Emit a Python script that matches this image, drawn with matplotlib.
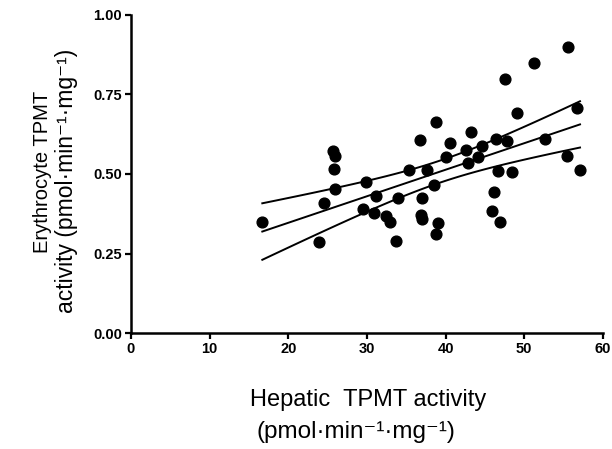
import numpy as np
import matplotlib
matplotlib.use("Agg")
import matplotlib.pyplot as plt

plt.rcParams['font.family'] = ['Liberation Sans', 'DejaVu Sans']

# hepatic TPMT activity (pmol/min/mg)
hepatic = [16.7, 23.9, 24.6, 25.7, 25.9, 25.8, 25.9, 29.5, 29.9, 30.9,
           31.1, 32.4, 32.9, 33.7, 34.0, 35.3, 36.8, 37.0, 36.9, 37.0,
           37.6, 38.5, 38.8, 39.0, 38.8, 40.0, 40.6, 42.6, 43.3, 42.9,
           44.1, 44.7, 46.1, 45.9, 46.9, 46.7, 46.4, 47.8, 47.6, 48.4,
           49.1, 51.2, 52.7, 55.4, 55.6, 56.7, 57.1]
# erythrocyte TPMT activity (pmol/min/mg)
erythro = [0.350, 0.286, 0.409, 0.573, 0.557, 0.516, 0.453, 0.389, 0.474, 0.377,
           0.431, 0.368, 0.349, 0.289, 0.424, 0.513, 0.607, 0.423, 0.371, 0.360,
           0.513, 0.465, 0.664, 0.345, 0.310, 0.552, 0.596, 0.575, 0.633, 0.534,
           0.554, 0.589, 0.442, 0.384, 0.348, 0.510, 0.609, 0.604, 0.799, 0.507,
           0.693, 0.850, 0.609, 0.557, 0.898, 0.707, 0.513]

x = np.array(hepatic)
y = np.array(erythro)

# linear regression with 95% confidence band
slope, intercept = np.polyfit(x, y, 1)
n = len(x)
resid = y - (slope * x + intercept)
s = np.sqrt(np.sum(resid ** 2) / (n - 2))
xs = np.linspace(x.min(), x.max(), 100)
fit = slope * xs + intercept
se = s * np.sqrt(1 / n + (xs - x.mean()) ** 2 / np.sum((x - x.mean()) ** 2))
t = 2.014

fig = plt.figure(figsize=(6.12, 4.49), dpi=100)
ax = fig.add_axes([0.214, 0.258, 0.771, 0.709])

ax.scatter(x, y, s=60, color='black', zorder=3)
ax.plot(xs, fit, color='black', lw=1.4)
ax.plot(xs, fit + t * se, color='black', lw=1.4)
ax.plot(xs, fit - t * se, color='black', lw=1.4)

ax.set_xlim(0, 60)
ax.set_ylim(0, 1.0)
ax.set_xticks([0, 10, 20, 30, 40, 50, 60])
ax.set_yticks([0.0, 0.25, 0.5, 0.75, 1.0])
ax.set_yticklabels(['0.00', '0.25', '0.50', '0.75', '1.00'])
ax.spines['top'].set_visible(False)
ax.spines['right'].set_visible(False)
ax.spines['left'].set_linewidth(1.8)
ax.spines['bottom'].set_linewidth(1.8)
ax.tick_params(width=1.6, length=4.5, labelsize=10.5, pad=2)
for lab in ax.get_xticklabels() + ax.get_yticklabels():
    lab.set_fontweight('bold')

fig.text(0.601, 0.109, 'Hepatic  TPMT activity', ha='center', va='center', fontsize=17)
fig.text(0.582, 0.038, '(pmol\u00b7min\u207b\u00b9\u00b7mg\u207b\u00b9)', ha='center', va='center', fontsize=17.5)
fig.text(0.070, 0.617, 'Erythrocyte TPMT', rotation=90, ha='center', va='center', fontsize=14.5)
fig.text(0.109, 0.598, 'activity (pmol\u00b7min\u207b\u00b9\u00b7mg\u207b\u00b9)', rotation=90,
         ha='center', va='center', fontsize=16.5)

fig.savefig('out.png', dpi=100)
